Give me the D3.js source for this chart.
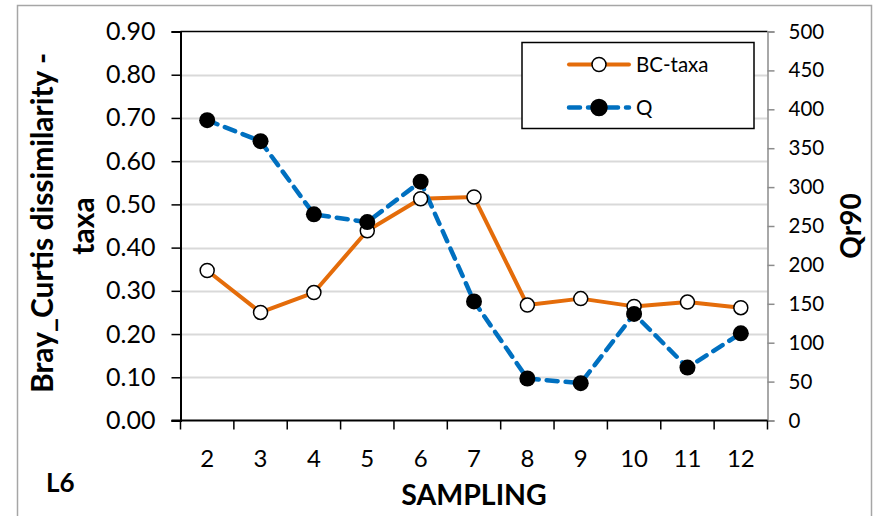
<!DOCTYPE html>
<html>
<head>
<meta charset="utf-8">
<script src="https://cdn.jsdelivr.net/npm/d3@7/dist/d3.min.js"></script>
<style>
  html, body { margin: 0; padding: 0; background: #fff; }
  svg { display: block; }
  text { font-family: Lato, "Open Sans", sans-serif; fill: #000; }
</style>
</head>
<body>
<script>
// Sampling campaigns on the x axis
const samplings = ["2", "3", "4", "5", "6", "7", "8", "9", "10", "11", "12"];
// Bray-Curtis dissimilarity of taxa (left axis)
const bcTaxa = [0.347, 0.250, 0.296, 0.439, 0.513, 0.517, 0.267, 0.282, 0.264, 0.274, 0.261];
// Discharge Qr90 (right axis)
const qr90 = [386, 359, 265, 255, 307, 153, 54, 48, 137, 68, 112];
// Tick values
const leftTicks = [0, 0.1, 0.2, 0.3, 0.4, 0.5, 0.6, 0.7, 0.8, 0.9];
const rightTicks = [0, 50, 100, 150, 200, 250, 300, 350, 400, 450, 500];

const W = 879, H = 516;
const plot = { left: 180.5, right: 767.5, top: 31.5, bottom: 420.5 };

const svg = d3.select("body").append("svg").attr("width", W).attr("height", H);

// outer chart frame
svg.append("rect")
  .attr("x", 17.5).attr("y", 5.5).attr("width", 854).attr("height", 530)
  .attr("fill", "#fff").attr("stroke", "#a6a6a6").attr("stroke-width", 1.5);

const x = d3.scaleBand().domain(samplings).range([plot.left, plot.right]).paddingInner(0).paddingOuter(0);
const yL = d3.scaleLinear().domain([0, 0.9]).range([plot.bottom, plot.top]);
const yR = d3.scaleLinear().domain([0, 500]).range([plot.bottom, plot.top]);
const cx = d => x(d) + x.bandwidth() / 2;

// horizontal gridlines
svg.append("g").selectAll("line").data(leftTicks.filter(t => t > 0 && t < 0.9)).join("line")
  .attr("x1", plot.left).attr("x2", plot.right)
  .attr("y1", d => Math.round(yL(d)) + 0.5).attr("y2", d => Math.round(yL(d)) + 0.5)
  .attr("stroke", "#d9d9d9").attr("stroke-width", 2);

// top border of plot
svg.append("line").attr("x1", plot.left).attr("x2", plot.right)
  .attr("y1", plot.top).attr("y2", plot.top).attr("stroke", "#000").attr("stroke-width", 1.5);

// left axis
const leftAxis = svg.append("g").attr("transform", `translate(${plot.left},0)`)
  .call(d3.axisLeft(yL).tickValues(leftTicks).tickFormat(d3.format(".2f")).tickSize(9).tickPadding(16));
leftAxis.select(".domain").attr("stroke", "#000").attr("stroke-width", 2);
leftAxis.selectAll(".tick line").attr("stroke", "#000").attr("stroke-width", 1.5);
leftAxis.selectAll("text").style("font-size", "25px").attr("fill", "#000").attr("font-family", "Lato");

// right axis
const rightAxis = svg.append("g").attr("transform", `translate(${plot.right},0)`)
  .call(d3.axisRight(yR).tickValues(rightTicks).tickSize(7).tickPadding(14));
rightAxis.select(".domain").attr("stroke", "#8c8c8c").attr("stroke-width", 1.5);
rightAxis.selectAll(".tick line").attr("stroke", "#8c8c8c").attr("stroke-width", 1.5);
rightAxis.selectAll("text").style("font-size", "20.5px").attr("fill", "#000").attr("font-family", "Lato");

// bottom axis with ticks at category boundaries
const bottom = svg.append("g").attr("transform", `translate(0,${plot.bottom})`);
bottom.append("line").attr("x1", plot.left - 9).attr("x2", plot.right)
  .attr("stroke", "#000").attr("stroke-width", 2);
const boundaries = samplings.map(s => x(s)).concat([x(samplings[samplings.length - 1]) + x.bandwidth()]);
bottom.selectAll("line.tk").data(boundaries).join("line").attr("class", "tk")
  .attr("x1", d => d).attr("x2", d => d).attr("y1", 0).attr("y2", 9)
  .attr("stroke", "#000").attr("stroke-width", 1.5);
bottom.selectAll("text").data(samplings).join("text")
  .attr("x", d => cx(d)).attr("y", 46).attr("text-anchor", "middle")
  .style("font-size", "24px").text(d => d);

// series lines
const lineBC = d3.line().x((d, i) => cx(samplings[i])).y(d => yL(d));
const lineQ = d3.line().x((d, i) => cx(samplings[i])).y(d => yR(d));

svg.append("path").datum(bcTaxa).attr("d", lineBC)
  .attr("fill", "none").attr("stroke", "#e46c0a").attr("stroke-width", 4).attr("stroke-linejoin", "round");
svg.append("path").datum(qr90).attr("d", lineQ)
  .attr("fill", "none").attr("stroke", "#0070c0").attr("stroke-width", 4.5)
  .attr("stroke-dasharray", "11,8").attr("stroke-linecap", "round");

// markers
svg.append("g").selectAll("circle").data(bcTaxa).join("circle")
  .attr("cx", (d, i) => cx(samplings[i])).attr("cy", d => yL(d)).attr("r", 7)
  .attr("fill", "#fff").attr("stroke", "#000").attr("stroke-width", 1.5);
svg.append("g").selectAll("circle").data(qr90).join("circle")
  .attr("cx", (d, i) => cx(samplings[i])).attr("cy", d => yR(d)).attr("r", 8)
  .attr("fill", "#000");

// legend
const lg = svg.append("g");
lg.append("rect").attr("x", 522).attr("y", 42.5).attr("width", 232).attr("height", 86)
  .attr("fill", "#fff").attr("stroke", "#000").attr("stroke-width", 1.5);
const legendRows = [
  { name: "BC-taxa", y: 64.5, color: "#e46c0a", dash: null, fill: "#fff", r: 7 },
  { name: "Q", y: 107.5, color: "#0070c0", dash: "11,8", fill: "#000", r: 8 }
];
legendRows.forEach(row => {
  lg.append("line").attr("x1", 569).attr("x2", 629).attr("y1", row.y).attr("y2", row.y)
    .attr("stroke", row.color).attr("stroke-width", row.dash ? 4.5 : 4)
    .attr("stroke-linecap", "round").attr("stroke-dasharray", row.dash);
  lg.append("circle").attr("cx", 599).attr("cy", row.y).attr("r", row.r)
    .attr("fill", row.fill).attr("stroke", "#000").attr("stroke-width", 1.5);
  lg.append("text").attr("x", 636).attr("y", row.y).attr("dy", "0.35em")
    .style("font-size", "20.5px").text(row.name);
});

// axis titles
svg.append("text").attr("transform", "translate(53,223) rotate(-90)")
  .attr("text-anchor", "middle").style("font-size", "30px").style("font-weight", "bold")
  .text("Bray_Curtis dissimilarity -");
svg.append("text").attr("transform", "translate(94,226) rotate(-90)")
  .attr("text-anchor", "middle").style("font-size", "30px").style("font-weight", "bold")
  .text("taxa");
svg.append("text").attr("transform", "translate(861,226) rotate(-90)")
  .attr("text-anchor", "middle").style("font-size", "28px").style("font-weight", "bold")
  .text("Qr90");
svg.append("text").attr("x", 474).attr("y", 505).attr("text-anchor", "middle")
  .style("font-size", "28.5px").style("font-weight", "bold").text("SAMPLING");
svg.append("text").attr("x", 46).attr("y", 492)
  .style("font-size", "26px").style("font-weight", "bold").text("L6");
</script>
</body>
</html>
